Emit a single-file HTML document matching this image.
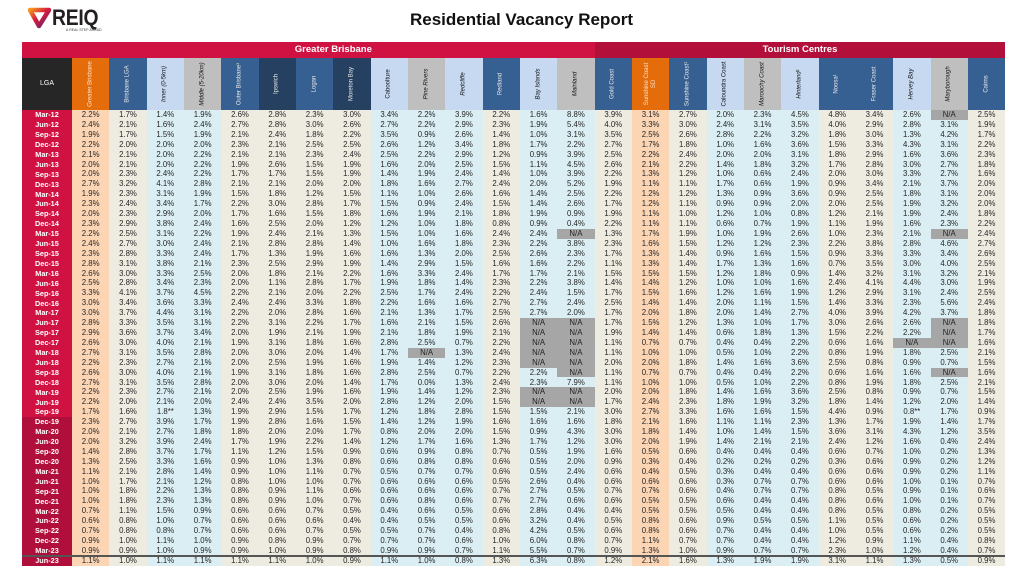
<!DOCTYPE html>
<html><head><meta charset="utf-8"><style>
*{margin:0;padding:0;box-sizing:border-box}
body{width:1024px;height:578px;background:#fff;position:relative;overflow:hidden;font-family:"Liberation Sans",Arial,sans-serif}
.title{position:absolute;left:0;width:1043px;top:10px;text-align:center;font-size:17px;font-weight:bold;line-height:20px;color:#111}
.reiq{position:absolute;left:52px;top:5px;font-size:22px;font-weight:bold;color:#231f20;line-height:26px;transform:scaleX(0.88);transform-origin:left top;letter-spacing:-0.3px}
.tag{position:absolute;left:66px;top:28px;font-size:3.4px;color:#333;letter-spacing:0.1px;white-space:nowrap}
.g1{position:absolute;left:22px;top:42px;width:572.7px;height:16px;background:#d01243}
.g2{position:absolute;left:594.7px;top:42px;width:410.6px;height:16px;background:#b20f3b}
.gt{position:absolute;top:42px;height:16px;line-height:16px;text-align:center;color:#fff;font-weight:bold;font-size:9.5px}
.h{position:absolute;left:22px;top:58px;width:983.33px;height:52px;display:grid;grid-template-columns:50px repeat(25,37.333px)}
.h div{position:relative;background:#376092;color:#e8e8e8;font-size:6px;overflow:visible}
.h div span{position:absolute;left:50%;top:50%;transform:translate(-50%,-50%) rotate(-90deg);white-space:nowrap;text-align:center;line-height:1.15}
.h div.k{background:#262626;color:#fff}
.h div.k span{transform:translate(-50%,-50%);font-size:7px}
.h div.o{background:#e46c0a;color:#fbe3cc}
.h div.nv{background:#254061}
.h div.lb{background:#c6d9f1;color:#111}
.h div.gr{background:#bfbfbf;color:#111}
.h div.it span{font-style:italic}
.b{position:absolute;left:22px;top:110px;width:983.33px;display:grid;grid-template-columns:50px repeat(25,37.333px);grid-auto-rows:9.92px}
.b i{font-style:normal;display:flex;align-items:center;justify-content:center;font-size:7.8px;color:#262626;background:#eeece1;line-height:1;white-space:nowrap;overflow:hidden}
.b i:nth-child(26n+1){background:#d01243;color:#fff;font-weight:bold;font-size:7.3px}
.b i:nth-child(26n+1):nth-child(n+807){background:#b00e3b}
.b i:nth-child(26n+2),.b i:nth-child(26n+17){background:#fcd5b4}
.b i:nth-child(26n+4),.b i:nth-child(26n+5),.b i:nth-child(26n+10),.b i:nth-child(26n+11),.b i:nth-child(26n+12),.b i:nth-child(26n+14),.b i:nth-child(26n+15),.b i:nth-child(26n+19),.b i:nth-child(26n+20),.b i:nth-child(26n+21),.b i:nth-child(26n+24),.b i:nth-child(26n+25){background:#daeef3}
.b i.n{background:#a6a6a6;color:#222}
.ln{position:absolute;left:22px;top:555px;width:983.33px;height:1.7px;background:#555}
</style></head><body>
<svg style="position:absolute;left:26px;top:6px" width="28" height="24" viewBox="0 0 28 24">
<defs><linearGradient id="lg" x1="0" y1="0" x2="1" y2="1"><stop offset="0" stop-color="#f7941d"/><stop offset="0.45" stop-color="#d7193f"/><stop offset="1" stop-color="#5b2a6e"/></linearGradient></defs>
<path d="M4 4 L23 4 L13 20 Z" fill="none" stroke="url(#lg)" stroke-width="4.5" stroke-linejoin="round"/>
</svg>
<div class="reiq">REIQ</div>
<div class="tag">A REAL STEP AHEAD</div>
<div class="title">Residential Vacancy Report</div>
<div class="g1"></div><div class="g2"></div>
<div class="gt" style="left:72px;width:522.7px">Greater Brisbane</div>
<div class="gt" style="left:594.7px;width:410.6px">Tourism Centres</div>
<div class="h">
<div class="k"><span>LGA</span></div>
<div class="o"><span>Greater Brisbane</span></div>
<div><span>Brisbane LGA</span></div>
<div class="lb it"><span>Inner (0-5km)</span></div>
<div class="gr it"><span>Middle (5-20km)</span></div>
<div><span>Outer Brisbane¹</span></div>
<div class="nv"><span>Ipswich</span></div>
<div><span>Logan</span></div>
<div class="nv"><span>Moreton Bay</span></div>
<div class="lb"><span>Caboolture</span></div>
<div class="gr it"><span>Pine Rivers</span></div>
<div class="lb it"><span>Redcliffe</span></div>
<div><span>Redland</span></div>
<div class="lb it"><span>Bay Islands</span></div>
<div class="gr it"><span>Mainland</span></div>
<div><span>Gold Coast</span></div>
<div class="o"><span>Sunshine Coast<br>SD</span></div>
<div><span>Sunshine Coast¹</span></div>
<div class="lb"><span>Caloundra Coast</span></div>
<div class="gr it"><span>Maroochy Coast</span></div>
<div class="lb it"><span>Hinterland¹</span></div>
<div><span>Noosa¹</span></div>
<div><span>Fraser Coast</span></div>
<div class="lb it"><span>Hervey Bay</span></div>
<div class="gr it"><span>Maryborough</span></div>
<div><span>Cairns</span></div>
</div>
<div class="b">
<i>Mar-12</i><i>2.2%</i><i>1.7%</i><i>1.4%</i><i>1.9%</i><i>2.6%</i><i>2.8%</i><i>2.3%</i><i>3.0%</i><i>3.4%</i><i>2.2%</i><i>3.9%</i><i>2.2%</i><i>1.6%</i><i>8.8%</i><i>3.9%</i><i>3.1%</i><i>2.7%</i><i>2.0%</i><i>2.3%</i><i>4.5%</i><i>4.8%</i><i>3.4%</i><i>2.6%</i><i class="n">N/A</i><i>2.5%</i>
<i>Jun-12</i><i>2.4%</i><i>2.1%</i><i>1.6%</i><i>2.4%</i><i>2.7%</i><i>2.8%</i><i>3.0%</i><i>2.6%</i><i>2.7%</i><i>2.2%</i><i>2.9%</i><i>2.3%</i><i>1.9%</i><i>5.4%</i><i>4.0%</i><i>3.3%</i><i>3.0%</i><i>2.4%</i><i>3.1%</i><i>3.5%</i><i>4.0%</i><i>2.9%</i><i>2.8%</i><i>3.1%</i><i>1.9%</i>
<i>Sep-12</i><i>1.9%</i><i>1.7%</i><i>1.5%</i><i>1.9%</i><i>2.1%</i><i>2.4%</i><i>1.8%</i><i>2.2%</i><i>3.5%</i><i>0.9%</i><i>2.6%</i><i>1.4%</i><i>1.0%</i><i>3.1%</i><i>3.5%</i><i>2.5%</i><i>2.6%</i><i>2.8%</i><i>2.2%</i><i>3.2%</i><i>1.8%</i><i>3.0%</i><i>1.3%</i><i>4.2%</i><i>1.7%</i>
<i>Dec-12</i><i>2.2%</i><i>2.0%</i><i>2.0%</i><i>2.0%</i><i>2.3%</i><i>2.1%</i><i>2.5%</i><i>2.5%</i><i>2.6%</i><i>1.2%</i><i>3.4%</i><i>1.8%</i><i>1.7%</i><i>2.2%</i><i>2.7%</i><i>1.7%</i><i>1.8%</i><i>1.0%</i><i>1.6%</i><i>3.6%</i><i>1.5%</i><i>3.3%</i><i>4.3%</i><i>3.1%</i><i>2.2%</i>
<i>Mar-13</i><i>2.1%</i><i>2.1%</i><i>2.0%</i><i>2.2%</i><i>2.1%</i><i>2.1%</i><i>2.3%</i><i>2.4%</i><i>2.5%</i><i>2.2%</i><i>2.9%</i><i>1.2%</i><i>0.9%</i><i>3.9%</i><i>2.5%</i><i>2.2%</i><i>2.4%</i><i>2.0%</i><i>2.0%</i><i>3.1%</i><i>1.8%</i><i>2.9%</i><i>1.6%</i><i>3.6%</i><i>2.3%</i>
<i>Jun-13</i><i>2.0%</i><i>2.1%</i><i>2.0%</i><i>2.2%</i><i>1.9%</i><i>2.6%</i><i>1.5%</i><i>1.9%</i><i>1.6%</i><i>2.0%</i><i>2.5%</i><i>1.5%</i><i>1.1%</i><i>4.5%</i><i>2.6%</i><i>2.1%</i><i>2.2%</i><i>1.4%</i><i>1.8%</i><i>3.2%</i><i>1.7%</i><i>2.8%</i><i>3.0%</i><i>2.7%</i><i>1.8%</i>
<i>Sep-13</i><i>2.0%</i><i>2.3%</i><i>2.4%</i><i>2.2%</i><i>1.7%</i><i>1.7%</i><i>1.5%</i><i>1.9%</i><i>1.4%</i><i>1.9%</i><i>2.4%</i><i>1.4%</i><i>1.0%</i><i>3.9%</i><i>2.2%</i><i>1.3%</i><i>1.2%</i><i>1.0%</i><i>0.6%</i><i>2.4%</i><i>2.0%</i><i>3.0%</i><i>3.3%</i><i>2.7%</i><i>1.6%</i>
<i>Dec-13</i><i>2.7%</i><i>3.2%</i><i>4.1%</i><i>2.8%</i><i>2.1%</i><i>2.1%</i><i>2.0%</i><i>2.0%</i><i>1.8%</i><i>1.6%</i><i>2.7%</i><i>2.4%</i><i>2.0%</i><i>5.2%</i><i>1.9%</i><i>1.1%</i><i>1.1%</i><i>1.7%</i><i>0.6%</i><i>1.9%</i><i>0.9%</i><i>3.4%</i><i>2.1%</i><i>3.7%</i><i>2.0%</i>
<i>Mar-14</i><i>1.9%</i><i>2.3%</i><i>3.1%</i><i>1.9%</i><i>1.5%</i><i>1.8%</i><i>1.2%</i><i>1.5%</i><i>1.1%</i><i>1.0%</i><i>2.6%</i><i>1.6%</i><i>1.4%</i><i>2.5%</i><i>2.2%</i><i>1.2%</i><i>1.2%</i><i>1.3%</i><i>0.9%</i><i>3.6%</i><i>0.9%</i><i>2.5%</i><i>1.8%</i><i>3.1%</i><i>2.0%</i>
<i>Jun-14</i><i>2.3%</i><i>2.4%</i><i>3.4%</i><i>1.7%</i><i>2.2%</i><i>3.0%</i><i>2.8%</i><i>1.7%</i><i>1.5%</i><i>0.9%</i><i>2.4%</i><i>1.5%</i><i>1.4%</i><i>2.6%</i><i>1.7%</i><i>1.2%</i><i>1.1%</i><i>0.9%</i><i>0.9%</i><i>2.0%</i><i>2.0%</i><i>2.5%</i><i>1.9%</i><i>3.2%</i><i>2.0%</i>
<i>Sep-14</i><i>2.0%</i><i>2.3%</i><i>2.9%</i><i>2.0%</i><i>1.7%</i><i>1.6%</i><i>1.5%</i><i>1.8%</i><i>1.6%</i><i>1.9%</i><i>2.1%</i><i>1.8%</i><i>1.9%</i><i>0.9%</i><i>1.9%</i><i>1.1%</i><i>1.0%</i><i>1.2%</i><i>1.0%</i><i>0.8%</i><i>1.2%</i><i>2.1%</i><i>1.9%</i><i>2.4%</i><i>1.8%</i>
<i>Dec-14</i><i>2.3%</i><i>2.9%</i><i>3.8%</i><i>2.4%</i><i>1.6%</i><i>2.5%</i><i>2.0%</i><i>1.2%</i><i>1.2%</i><i>1.0%</i><i>1.8%</i><i>0.8%</i><i>0.9%</i><i>0.4%</i><i>2.2%</i><i>1.1%</i><i>1.1%</i><i>0.6%</i><i>0.7%</i><i>1.9%</i><i>1.1%</i><i>1.9%</i><i>1.6%</i><i>2.3%</i><i>2.2%</i>
<i>Mar-15</i><i>2.2%</i><i>2.5%</i><i>3.1%</i><i>2.2%</i><i>1.9%</i><i>2.4%</i><i>2.1%</i><i>1.3%</i><i>1.5%</i><i>1.0%</i><i>1.6%</i><i>2.4%</i><i>2.4%</i><i class="n">N/A</i><i>1.3%</i><i>1.7%</i><i>1.9%</i><i>1.0%</i><i>1.9%</i><i>2.6%</i><i>1.0%</i><i>2.3%</i><i>2.1%</i><i class="n">N/A</i><i>2.4%</i>
<i>Jun-15</i><i>2.4%</i><i>2.7%</i><i>3.0%</i><i>2.4%</i><i>2.1%</i><i>2.8%</i><i>2.8%</i><i>1.4%</i><i>1.0%</i><i>1.6%</i><i>1.8%</i><i>2.3%</i><i>2.2%</i><i>3.8%</i><i>2.3%</i><i>1.6%</i><i>1.5%</i><i>1.2%</i><i>1.2%</i><i>2.3%</i><i>2.2%</i><i>3.8%</i><i>2.8%</i><i>4.6%</i><i>2.7%</i>
<i>Sep-15</i><i>2.3%</i><i>2.8%</i><i>3.3%</i><i>2.4%</i><i>1.7%</i><i>1.3%</i><i>1.9%</i><i>1.6%</i><i>1.6%</i><i>1.3%</i><i>2.0%</i><i>2.5%</i><i>2.6%</i><i>2.3%</i><i>1.7%</i><i>1.3%</i><i>1.4%</i><i>0.9%</i><i>1.6%</i><i>1.5%</i><i>0.9%</i><i>3.3%</i><i>3.3%</i><i>3.4%</i><i>2.6%</i>
<i>Dec-15</i><i>2.8%</i><i>3.1%</i><i>3.8%</i><i>2.1%</i><i>2.3%</i><i>2.5%</i><i>2.9%</i><i>1.9%</i><i>1.4%</i><i>2.9%</i><i>1.5%</i><i>1.6%</i><i>1.6%</i><i>2.2%</i><i>1.1%</i><i>1.3%</i><i>1.4%</i><i>1.7%</i><i>1.3%</i><i>1.6%</i><i>0.7%</i><i>3.5%</i><i>3.0%</i><i>4.0%</i><i>2.5%</i>
<i>Mar-16</i><i>2.6%</i><i>3.0%</i><i>3.3%</i><i>2.5%</i><i>2.0%</i><i>1.8%</i><i>2.1%</i><i>2.2%</i><i>1.6%</i><i>3.3%</i><i>2.4%</i><i>1.7%</i><i>1.7%</i><i>2.1%</i><i>1.5%</i><i>1.5%</i><i>1.5%</i><i>1.2%</i><i>1.8%</i><i>0.9%</i><i>1.4%</i><i>3.2%</i><i>3.1%</i><i>3.2%</i><i>2.1%</i>
<i>Jun-16</i><i>2.5%</i><i>2.8%</i><i>3.4%</i><i>2.3%</i><i>2.0%</i><i>1.1%</i><i>2.8%</i><i>1.7%</i><i>1.9%</i><i>1.8%</i><i>1.4%</i><i>2.3%</i><i>2.2%</i><i>3.8%</i><i>1.4%</i><i>1.4%</i><i>1.2%</i><i>1.0%</i><i>1.0%</i><i>1.6%</i><i>2.4%</i><i>4.1%</i><i>4.4%</i><i>3.0%</i><i>1.9%</i>
<i>Sep-16</i><i>3.3%</i><i>4.1%</i><i>3.7%</i><i>4.5%</i><i>2.2%</i><i>2.1%</i><i>2.0%</i><i>2.2%</i><i>2.5%</i><i>1.7%</i><i>2.4%</i><i>2.2%</i><i>2.4%</i><i>1.5%</i><i>1.7%</i><i>1.5%</i><i>1.6%</i><i>1.2%</i><i>1.6%</i><i>1.9%</i><i>1.2%</i><i>2.9%</i><i>3.1%</i><i>2.4%</i><i>2.5%</i>
<i>Dec-16</i><i>3.0%</i><i>3.4%</i><i>3.6%</i><i>3.3%</i><i>2.4%</i><i>2.4%</i><i>3.3%</i><i>1.8%</i><i>2.2%</i><i>1.6%</i><i>1.6%</i><i>2.7%</i><i>2.7%</i><i>2.4%</i><i>2.5%</i><i>1.4%</i><i>1.4%</i><i>2.0%</i><i>1.1%</i><i>1.5%</i><i>1.4%</i><i>3.3%</i><i>2.3%</i><i>5.6%</i><i>2.4%</i>
<i>Mar-17</i><i>3.0%</i><i>3.7%</i><i>4.4%</i><i>3.1%</i><i>2.2%</i><i>2.0%</i><i>2.8%</i><i>1.6%</i><i>2.1%</i><i>1.3%</i><i>1.7%</i><i>2.5%</i><i>2.7%</i><i>2.0%</i><i>1.7%</i><i>2.0%</i><i>1.8%</i><i>2.0%</i><i>1.4%</i><i>2.7%</i><i>4.0%</i><i>3.9%</i><i>4.2%</i><i>3.7%</i><i>1.8%</i>
<i>Jun-17</i><i>2.8%</i><i>3.3%</i><i>3.5%</i><i>3.1%</i><i>2.2%</i><i>3.1%</i><i>2.2%</i><i>1.7%</i><i>1.6%</i><i>2.1%</i><i>1.5%</i><i>2.6%</i><i class="n">N/A</i><i class="n">N/A</i><i>1.7%</i><i>1.5%</i><i>1.2%</i><i>1.3%</i><i>1.0%</i><i>1.7%</i><i>3.0%</i><i>2.6%</i><i>2.6%</i><i class="n">N/A</i><i>1.8%</i>
<i>Sep-17</i><i>2.9%</i><i>3.6%</i><i>3.7%</i><i>3.4%</i><i>2.0%</i><i>1.9%</i><i>2.1%</i><i>1.9%</i><i>2.1%</i><i>1.8%</i><i>1.9%</i><i>2.1%</i><i class="n">N/A</i><i class="n">N/A</i><i>1.9%</i><i>1.4%</i><i>1.4%</i><i>0.6%</i><i>1.8%</i><i>1.3%</i><i>1.5%</i><i>2.2%</i><i>2.2%</i><i class="n">N/A</i><i>1.7%</i>
<i>Dec-17</i><i>2.6%</i><i>3.0%</i><i>4.0%</i><i>2.1%</i><i>1.9%</i><i>3.1%</i><i>1.8%</i><i>1.6%</i><i>2.8%</i><i>2.5%</i><i>0.7%</i><i>2.2%</i><i class="n">N/A</i><i class="n">N/A</i><i>1.1%</i><i>0.7%</i><i>0.7%</i><i>0.4%</i><i>0.4%</i><i>2.2%</i><i>0.6%</i><i>1.6%</i><i class="n">N/A</i><i class="n">N/A</i><i>1.6%</i>
<i>Mar-18</i><i>2.7%</i><i>3.1%</i><i>3.5%</i><i>2.8%</i><i>2.0%</i><i>3.0%</i><i>2.0%</i><i>1.4%</i><i>1.7%</i><i class="n">N/A</i><i>1.3%</i><i>2.4%</i><i class="n">N/A</i><i class="n">N/A</i><i>1.1%</i><i>1.0%</i><i>1.0%</i><i>0.5%</i><i>1.0%</i><i>2.2%</i><i>0.8%</i><i>1.9%</i><i>1.8%</i><i>2.5%</i><i>2.1%</i>
<i>Jun-18</i><i>2.2%</i><i>2.3%</i><i>2.7%</i><i>2.1%</i><i>2.0%</i><i>2.5%</i><i>1.9%</i><i>1.6%</i><i>1.9%</i><i>1.4%</i><i>1.2%</i><i>2.3%</i><i class="n">N/A</i><i class="n">N/A</i><i>2.0%</i><i>2.0%</i><i>1.8%</i><i>1.4%</i><i>1.6%</i><i>3.6%</i><i>2.5%</i><i>0.8%</i><i>0.9%</i><i>0.7%</i><i>1.5%</i>
<i>Sep-18</i><i>2.6%</i><i>3.0%</i><i>4.0%</i><i>2.1%</i><i>1.9%</i><i>3.1%</i><i>1.8%</i><i>1.6%</i><i>2.8%</i><i>2.5%</i><i>0.7%</i><i>2.2%</i><i>2.2%</i><i class="n">N/A</i><i>1.1%</i><i>0.7%</i><i>0.7%</i><i>0.4%</i><i>0.4%</i><i>2.2%</i><i>0.6%</i><i>1.6%</i><i>1.6%</i><i class="n">N/A</i><i>1.6%</i>
<i>Dec-18</i><i>2.7%</i><i>3.1%</i><i>3.5%</i><i>2.8%</i><i>2.0%</i><i>3.0%</i><i>2.0%</i><i>1.4%</i><i>1.7%</i><i>0.0%</i><i>1.3%</i><i>2.4%</i><i>2.3%</i><i>7.9%</i><i>1.1%</i><i>1.0%</i><i>1.0%</i><i>0.5%</i><i>1.0%</i><i>2.2%</i><i>0.8%</i><i>1.9%</i><i>1.8%</i><i>2.5%</i><i>2.1%</i>
<i>Mar-19</i><i>2.2%</i><i>2.3%</i><i>2.7%</i><i>2.1%</i><i>2.0%</i><i>2.5%</i><i>1.9%</i><i>1.6%</i><i>1.9%</i><i>1.4%</i><i>1.2%</i><i>2.3%</i><i class="n">N/A</i><i class="n">N/A</i><i>2.0%</i><i>2.0%</i><i>1.8%</i><i>1.4%</i><i>1.6%</i><i>3.6%</i><i>2.5%</i><i>0.8%</i><i>0.9%</i><i>0.7%</i><i>1.5%</i>
<i>Jun-19</i><i>2.2%</i><i>2.0%</i><i>2.1%</i><i>2.0%</i><i>2.4%</i><i>2.4%</i><i>3.5%</i><i>2.0%</i><i>2.8%</i><i>1.2%</i><i>2.0%</i><i>1.5%</i><i class="n">N/A</i><i class="n">N/A</i><i>1.7%</i><i>2.4%</i><i>2.3%</i><i>1.8%</i><i>1.9%</i><i>3.2%</i><i>1.8%</i><i>1.4%</i><i>1.2%</i><i>2.0%</i><i>1.4%</i>
<i>Sep-19</i><i>1.7%</i><i>1.6%</i><i>1.8**</i><i>1.3%</i><i>1.9%</i><i>2.9%</i><i>1.5%</i><i>1.7%</i><i>1.2%</i><i>1.8%</i><i>2.8%</i><i>1.5%</i><i>1.5%</i><i>2.1%</i><i>3.0%</i><i>2.7%</i><i>3.3%</i><i>1.6%</i><i>1.6%</i><i>1.5%</i><i>4.4%</i><i>0.9%</i><i>0.8**</i><i>1.7%</i><i>0.9%</i>
<i>Dec-19</i><i>2.3%</i><i>2.7%</i><i>3.9%</i><i>1.7%</i><i>1.9%</i><i>2.8%</i><i>1.6%</i><i>1.5%</i><i>1.4%</i><i>1.2%</i><i>1.9%</i><i>1.6%</i><i>1.6%</i><i>1.6%</i><i>1.8%</i><i>2.1%</i><i>1.6%</i><i>1.1%</i><i>1.1%</i><i>2.3%</i><i>1.3%</i><i>1.7%</i><i>1.9%</i><i>1.4%</i><i>1.7%</i>
<i>Mar-20</i><i>2.0%</i><i>2.1%</i><i>2.7%</i><i>1.8%</i><i>1.8%</i><i>2.0%</i><i>2.0%</i><i>1.7%</i><i>0.8%</i><i>2.0%</i><i>2.0%</i><i>1.5%</i><i>0.9%</i><i>4.3%</i><i>3.0%</i><i>1.8%</i><i>1.4%</i><i>1.0%</i><i>1.4%</i><i>1.5%</i><i>3.6%</i><i>3.1%</i><i>4.3%</i><i>1.2%</i><i>3.5%</i>
<i>Jun-20</i><i>2.0%</i><i>3.2%</i><i>3.9%</i><i>2.4%</i><i>1.7%</i><i>1.9%</i><i>2.2%</i><i>1.4%</i><i>1.2%</i><i>1.7%</i><i>1.6%</i><i>1.3%</i><i>1.7%</i><i>1.2%</i><i>3.0%</i><i>2.0%</i><i>1.9%</i><i>1.4%</i><i>2.1%</i><i>2.1%</i><i>2.4%</i><i>1.2%</i><i>1.6%</i><i>0.4%</i><i>2.4%</i>
<i>Sep-20</i><i>1.4%</i><i>2.8%</i><i>3.7%</i><i>1.7%</i><i>1.1%</i><i>1.2%</i><i>1.5%</i><i>0.9%</i><i>0.6%</i><i>0.9%</i><i>0.8%</i><i>0.7%</i><i>0.5%</i><i>1.9%</i><i>1.6%</i><i>0.5%</i><i>0.6%</i><i>0.4%</i><i>0.4%</i><i>0.4%</i><i>0.6%</i><i>0.7%</i><i>1.0%</i><i>0.2%</i><i>1.3%</i>
<i>Dec-20</i><i>1.3%</i><i>2.5%</i><i>3.3%</i><i>1.6%</i><i>0.9%</i><i>1.0%</i><i>1.3%</i><i>0.8%</i><i>0.6%</i><i>0.8%</i><i>0.8%</i><i>0.6%</i><i>0.5%</i><i>2.0%</i><i>0.9%</i><i>0.3%</i><i>0.4%</i><i>0.2%</i><i>0.2%</i><i>0.2%</i><i>0.3%</i><i>0.6%</i><i>0.9%</i><i>0.2%</i><i>1.2%</i>
<i>Mar-21</i><i>1.1%</i><i>2.1%</i><i>2.8%</i><i>1.4%</i><i>0.9%</i><i>1.0%</i><i>1.1%</i><i>0.7%</i><i>0.5%</i><i>0.7%</i><i>0.7%</i><i>0.6%</i><i>0.5%</i><i>2.4%</i><i>0.6%</i><i>0.4%</i><i>0.5%</i><i>0.3%</i><i>0.4%</i><i>0.4%</i><i>0.6%</i><i>0.6%</i><i>0.9%</i><i>0.2%</i><i>1.1%</i>
<i>Jun-21</i><i>1.0%</i><i>1.7%</i><i>2.1%</i><i>1.2%</i><i>0.8%</i><i>1.0%</i><i>1.0%</i><i>0.7%</i><i>0.6%</i><i>0.6%</i><i>0.6%</i><i>0.5%</i><i>2.6%</i><i>0.4%</i><i>0.6%</i><i>0.6%</i><i>0.6%</i><i>0.3%</i><i>0.7%</i><i>0.7%</i><i>0.6%</i><i>0.6%</i><i>1.0%</i><i>0.1%</i><i>0.7%</i>
<i>Sep-21</i><i>1.0%</i><i>1.8%</i><i>2.2%</i><i>1.3%</i><i>0.8%</i><i>0.9%</i><i>1.1%</i><i>0.6%</i><i>0.6%</i><i>0.6%</i><i>0.6%</i><i>0.7%</i><i>2.7%</i><i>0.5%</i><i>0.7%</i><i>0.7%</i><i>0.6%</i><i>0.4%</i><i>0.7%</i><i>0.7%</i><i>0.8%</i><i>0.5%</i><i>0.9%</i><i>0.1%</i><i>0.6%</i>
<i>Dec-21</i><i>1.0%</i><i>1.8%</i><i>2.3%</i><i>1.3%</i><i>0.8%</i><i>0.9%</i><i>1.0%</i><i>0.7%</i><i>0.6%</i><i>0.8%</i><i>0.6%</i><i>0.7%</i><i>2.7%</i><i>0.6%</i><i>0.6%</i><i>0.5%</i><i>0.5%</i><i>0.6%</i><i>0.4%</i><i>0.4%</i><i>0.8%</i><i>0.6%</i><i>1.0%</i><i>0.1%</i><i>0.7%</i>
<i>Mar-22</i><i>0.7%</i><i>1.1%</i><i>1.5%</i><i>0.9%</i><i>0.6%</i><i>0.6%</i><i>0.7%</i><i>0.5%</i><i>0.4%</i><i>0.6%</i><i>0.5%</i><i>0.6%</i><i>2.8%</i><i>0.4%</i><i>0.4%</i><i>0.5%</i><i>0.5%</i><i>0.5%</i><i>0.4%</i><i>0.4%</i><i>0.8%</i><i>0.5%</i><i>0.8%</i><i>0.2%</i><i>0.5%</i>
<i>Jun-22</i><i>0.6%</i><i>0.8%</i><i>1.0%</i><i>0.7%</i><i>0.6%</i><i>0.6%</i><i>0.6%</i><i>0.4%</i><i>0.4%</i><i>0.5%</i><i>0.5%</i><i>0.6%</i><i>3.2%</i><i>0.4%</i><i>0.5%</i><i>0.8%</i><i>0.6%</i><i>0.9%</i><i>0.5%</i><i>0.5%</i><i>1.1%</i><i>0.5%</i><i>0.6%</i><i>0.2%</i><i>0.5%</i>
<i>Sep-22</i><i>0.7%</i><i>0.8%</i><i>0.8%</i><i>0.7%</i><i>0.6%</i><i>0.6%</i><i>0.7%</i><i>0.5%</i><i>0.5%</i><i>0.7%</i><i>0.4%</i><i>0.8%</i><i>4.2%</i><i>0.5%</i><i>0.6%</i><i>0.8%</i><i>0.6%</i><i>0.7%</i><i>0.4%</i><i>0.4%</i><i>1.0%</i><i>0.5%</i><i>0.6%</i><i>0.2%</i><i>0.5%</i>
<i>Dec-22</i><i>0.9%</i><i>1.0%</i><i>1.1%</i><i>1.0%</i><i>0.9%</i><i>0.8%</i><i>0.9%</i><i>0.7%</i><i>0.7%</i><i>0.7%</i><i>0.6%</i><i>1.0%</i><i>6.0%</i><i>0.8%</i><i>0.7%</i><i>1.1%</i><i>0.7%</i><i>0.7%</i><i>0.4%</i><i>0.4%</i><i>1.2%</i><i>0.9%</i><i>1.1%</i><i>0.4%</i><i>0.8%</i>
<i>Mar-23</i><i>0.9%</i><i>0.9%</i><i>1.0%</i><i>0.9%</i><i>0.9%</i><i>1.0%</i><i>0.9%</i><i>0.8%</i><i>0.9%</i><i>0.9%</i><i>0.7%</i><i>1.1%</i><i>5.5%</i><i>0.7%</i><i>0.9%</i><i>1.3%</i><i>1.0%</i><i>0.9%</i><i>0.7%</i><i>0.7%</i><i>2.3%</i><i>1.0%</i><i>1.2%</i><i>0.4%</i><i>0.7%</i>
<i>Jun-23</i><i>1.1%</i><i>1.0%</i><i>1.1%</i><i>1.1%</i><i>1.1%</i><i>1.1%</i><i>1.0%</i><i>0.9%</i><i>1.1%</i><i>1.0%</i><i>0.8%</i><i>1.3%</i><i>6.3%</i><i>0.8%</i><i>1.2%</i><i>2.1%</i><i>1.6%</i><i>1.3%</i><i>1.9%</i><i>1.9%</i><i>3.1%</i><i>1.1%</i><i>1.3%</i><i>0.5%</i><i>0.9%</i>
</div>
<div class="ln"></div>
</body></html>
